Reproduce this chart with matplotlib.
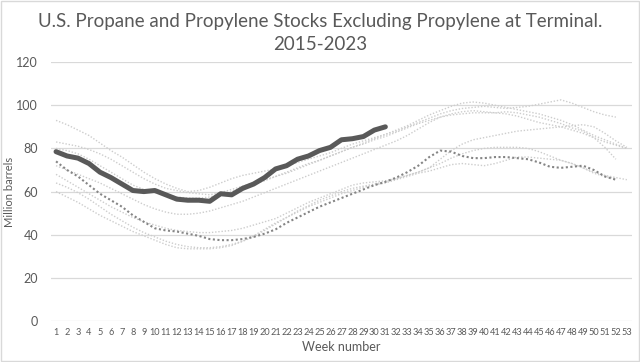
import numpy as np
import matplotlib
matplotlib.use("Agg")
import matplotlib.pyplot as plt
from matplotlib.patches import Rectangle

plt.rcParams["font.family"] = ["Lato", "DejaVu Sans"]

weeks = list(range(1, 54))
nan = np.nan

# earlier years (light grey dotted)
y_a = [93, 91, 88.5, 86, 82.5, 79, 76, 72.5, 69, 66,
       63.5, 61.5, 60, 60.5, 62, 64, 66, 67.5, 68.5, 69.5,
       70.5, 72, 73.5, 75, 76.5, 78, 80, 82, 83.5, 85,
       86.5, 88, 90, 92, 94, 96, 97.5, 98.5, 99, 99.5,
       99, 98.5, 99, 99.5, 100.5, 101.5, 102.5, 101, 99, 97,
       95.5, 94.5, nan]
y_b = [83, 82, 81, 79.5, 77.5, 75, 72, 69, 66, 63.5,
       61.5, 60.5, 59.5, 59, 58.5, 59.5, 61, 62.5, 64, 65.5,
       67, 68.5, 70.5, 72.5, 74.5, 76.5, 78.5, 80.5, 82.5, 84.5,
       86.5, 88.5, 90.5, 93, 95.5, 97.5, 99.5, 101, 101.5, 101,
       100, 99, 98, 97, 96, 94.5, 93, 91, 88.5, 86,
       84, 82, 80]
y_c = [80, 79, 77.5, 75, 72, 69, 66, 63, 61, 59.5,
       58.5, 57.5, 57, 57, 57.5, 58.5, 60, 62, 63.5, 65,
       67, 69, 71, 73, 74.5, 76.5, 78.5, 80.5, 82, 84,
       85.5, 87.5, 89.5, 91.5, 93, 94.5, 95.5, 96, 96.5, 96.5,
       96.5, 97, 96.5, 95.5, 94.5, 93, 91.5, 89.5, 88, 85,
       80.5, 75, nan]
y_d = [72, 70, 68, 66, 64, 61.5, 59, 56.5, 54, 52,
       50.5, 49.5, 49.5, 50, 51, 52.5, 54, 55.5, 57.5, 59.5,
       61.5, 63.5, 65.5, 67.5, 69.5, 71.5, 73.5, 75.5, 77.5, 79.5,
       81.5, 83.5, 86, 89, 92, 94.5, 96, 97, 97.5, 97,
       96.5, 96, 95, 93.5, 92, 91, 90, 88.5, 87, 85,
       83, 81.5, 80]
y_e = [68, 65, 62, 59, 56, 53, 50.5, 48, 46, 44.5,
       43, 42, 41.5, 41, 41, 41.5, 42, 43, 44.5, 46,
       47.5, 50, 52.5, 55, 57, 59, 61, 63, 64, 64.5,
       65, 66, 67.5, 69, 71, 75, 79, 82, 84, 85,
       86, 87, 88, 88.5, 89, 89.5, 90, 90.5, 91, 90,
       87, 83.5, 80.5]
y_f = [64, 62, 59.5, 56.5, 53, 49.5, 46.5, 43.5, 41, 39,
       37, 35.5, 34.5, 34, 34, 34.5, 35.5, 37, 39, 42,
       45, 48, 51, 53.5, 56, 58, 60, 61.5, 62.5, 63.5,
       64.5, 66, 67.5, 69, 71, 73, 75.5, 77.5, 79, 80,
       80.5, 80.5, 80.5, 80, 78.5, 76.5, 74.5, 73, 71, 69,
       67.5, 66.5, 65.5]
y_g = [60, 57.5, 55, 52, 49, 46.5, 44, 41.5, 39.5, 37.5,
       35.5, 34, 33.5, 33.5, 33.5, 34, 35, 37, 39.5, 42.5,
       45.5, 48, 50.5, 53, 55, 57, 59, 60.5, 62, 63,
       64, 65.5, 67, 68.5, 69.5, 71, 72.5, 73, 72.5, 72,
       73, 74.5, 76, 76, 75.5, 75, 74.5, 73, 71, 68.5,
       67, 66, nan]
# darker dotted year
y_dark = [74, 70, 67, 63, 59, 56, 53, 49, 46, 43,
          42, 41.5, 40.5, 39.5, 38, 37.5, 37.5, 38, 39, 40.5,
          42.5, 45.5, 48, 50.5, 53, 55, 57, 59, 61, 63,
          64.5, 66.5, 69, 72, 76, 79, 78.5, 76.5, 75.5, 75.5,
          76, 76, 75.5, 75, 73.5, 71.5, 71, 71.5, 72, 70,
          67, 65.5, nan]
# 2023 (bold)
y_2023 = [78.5, 76.5, 75.5, 73, 69, 66.5, 63.5, 60.5, 60, 60.5,
          58.5, 56.5, 56, 56, 55.5, 59, 58.5, 61.5, 63.5, 66.5,
          70.5, 72, 75, 76.5, 79, 80.5, 84, 84.5, 85.5, 88.5,
          90]

fig = plt.figure(figsize=(6.4, 3.62), dpi=100)
ax = fig.add_axes([0.079, 0.113, 0.909, 0.7155])

for ys in [y_a, y_b, y_c, y_d, y_e, y_f, y_g]:
    ax.plot(weeks, ys, color="#cdcdcd", linestyle=(0, (1, 1.3)), linewidth=1.0)
ax.plot(weeks, y_dark, color="#858585", linestyle=(0, (1, 1.2)), linewidth=1.5)
ax.plot(weeks[:len(y_2023)], y_2023, color="#595959", linewidth=3.6,
        solid_capstyle="round", solid_joinstyle="round")

ax.set_xlim(0.5, 53.5)
ax.set_ylim(0, 120)
ax.set_yticks(range(0, 121, 20))
ax.set_xticks(weeks)
ax.set_xticklabels([str(w) for w in weeks], fontsize=6.6, color="#595959")
ax.tick_params(axis="y", labelsize=9, colors="#595959", length=0, pad=9)
ax.tick_params(axis="x", length=0, pad=5)
ax.grid(axis="y", color="#d9d9d9", linewidth=0.9)
ax.set_axisbelow(True)
for s in ax.spines.values():
    s.set_visible(False)

ax.set_xlabel("Week number", fontsize=9, color="#595959", labelpad=3)
ax.set_ylabel("Million barrels", fontsize=8, color="#595959")
ax.yaxis.set_label_coords(-0.061, 0.5)

fig.text(0.5, 0.94, "U.S. Propane and Propylene Stocks Excluding Propylene at Terminal.",
         ha="center", va="center", fontsize=13.5, color="#595959")
fig.text(0.5, 0.878, "2015-2023", ha="center", va="center", fontsize=13.5, color="#595959")

fig.patches.append(Rectangle((0.001, 0.002), 0.997, 0.995, transform=fig.transFigure,
                             fill=False, edgecolor="#d9d9d9", linewidth=1))

fig.savefig("out.png", dpi=100)
